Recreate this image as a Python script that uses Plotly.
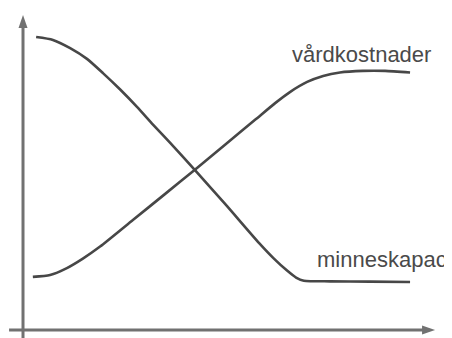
import plotly.graph_objects as go

# values (x: time units 0-10, y: 0-100)
minne_x = [0.32, 0.73, 1.15, 1.56, 1.95, 2.37, 2.78, 3.17, 3.59, 4.20, 4.95, 5.76, 6.12, 6.44, 6.66, 6.85, 7.49, 8.46, 9.44]
minne_y = [92.7, 91.8, 89.2, 85.8, 81.3, 76.1, 70.6, 65.0, 59.2, 50.5, 39.6, 27.5, 22.6, 18.8, 16.6, 15.6, 15.4, 15.3, 15.2]

vard_x = [0.24, 0.66, 1.07, 1.46, 1.88, 2.68, 3.46, 4.20, 4.95, 5.66, 6.15, 6.51, 6.93, 7.32, 7.73, 8.29, 8.83, 9.44]
vard_y = [16.8, 17.4, 19.6, 22.6, 26.4, 34.8, 43.0, 50.8, 58.9, 66.5, 71.8, 75.3, 78.5, 80.4, 81.5, 82.0, 82.0, 81.5]

labels = ["vårdkostnader", "minneskapac"]
label_x = [6.51, 7.12]
label_y = [87.3, 22.2]

line_col = "#474747"
axis_col = "#717171"

fig = go.Figure()
fig.add_trace(go.Scatter(x=minne_x, y=minne_y, mode="lines",
                         line=dict(color=line_col, width=2.6, shape="spline", smoothing=0.6)))
fig.add_trace(go.Scatter(x=vard_x, y=vard_y, mode="lines",
                         line=dict(color=line_col, width=2.6, shape="spline", smoothing=0.6)))

for t, lx, ly in zip(labels, label_x, label_y):
    fig.add_annotation(x=lx, y=ly, text=t, showarrow=False, xanchor="left", yanchor="middle",
                       font=dict(family="Liberation Sans, Arial", size=22, color="#4a4a4a"))

# axes with arrowheads
fig.add_shape(type="line", x0=-0.34, x1=9.8, y0=0, y1=0, line=dict(color=axis_col, width=3))
fig.add_shape(type="line", x0=0, x1=0, y0=-2.6, y1=95.9, line=dict(color=axis_col, width=3))
fig.add_shape(type="path", xsizemode="pixel", ysizemode="pixel", xanchor=10.05, yanchor=0,
              path="M0,0 L-13,4.5 L-13,-4.5 Z", fillcolor=axis_col, line=dict(width=0))
fig.add_shape(type="path", xsizemode="pixel", ysizemode="pixel", xanchor=0, yanchor=99.7,
              path="M0,0 L-4.5,-13 L4.5,-13 Z", fillcolor=axis_col, line=dict(width=0))

# page body has an 8px margin, so the figure is sized to fill the rest of the window
fig.update_xaxes(visible=False, range=[-0.366, 10.463])
fig.update_yaxes(visible=False, range=[-2.53, 101.9])
fig.update_layout(width=444, height=330, margin=dict(l=0, r=0, t=0, b=0),
                  plot_bgcolor="white", paper_bgcolor="white", showlegend=False)

fig.write_html("out.html")
